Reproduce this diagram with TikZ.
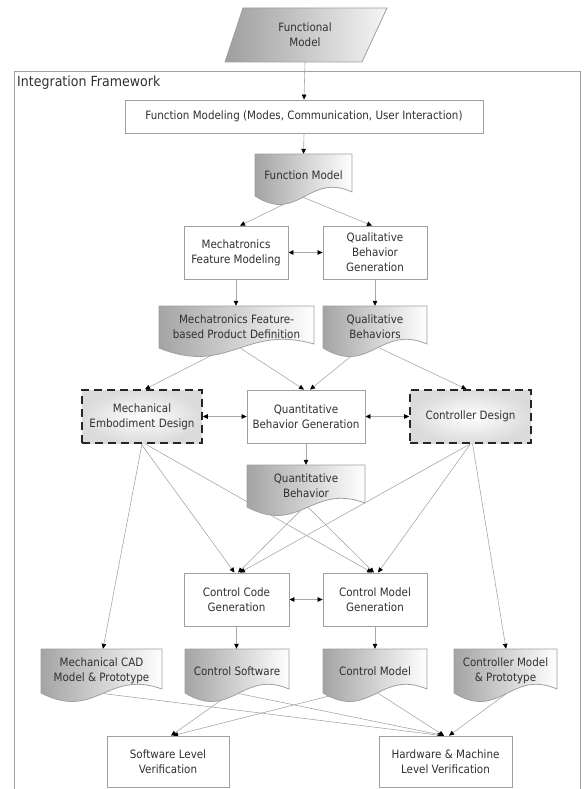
\documentclass[tikz,border=0pt]{standalone}
\usepackage{fontspec}
\setmainfont{DejaVu Sans}[FakeStretch=0.9]
\usetikzlibrary{arrows.meta,calc}
\pgfdeclarelayer{background}
\pgfsetlayers{background,main}

\definecolor{edge}{HTML}{A0A0A0}
\definecolor{wire}{HTML}{A8A8A8}
\definecolor{ink}{HTML}{303030}
\definecolor{docdark}{HTML}{A4A4A4}

\tikzset{
  txt/.style={font=\fontsize{11.5}{15}\selectfont, text=ink, align=center, inner sep=0pt},
  box/.style={txt, draw=edge, fill=white, line width=0.8pt},
  docbox/.style={txt, draw=none},
  tip/.tip={Triangle[length=5pt,width=4.5pt,color=black]},
  conn/.style={draw=wire, line width=0.6pt, -tip},
  biconn/.style={draw=wire, line width=0.6pt, tip-tip},
  frame/.style={draw=edge, line width=0.9pt},
  docshade/.style={left color=docdark, right color=white, draw=edge, line width=0.8pt},
  design/.style={txt, shade, inner color=white, outer color=black!14, draw=black!85,
                 line width=1.6pt, dash pattern=on 8pt off 5pt},
}

% rectangular node given by its corners: style, name, x1, y1, x2, y2, text
\newcommand\rectnode[7]{%
  \node[#1, minimum width={#5-#3}, minimum height={#6-#4}] (#2)
    at ({(#3+#5)/2},{(#4+#6)/2}) {#7};}

% document shape with a wavy lower edge: name, x1, y1, x2, y2 (lower corner), text
\newcommand\docnode[6]{%
  \shadedraw[docshade] (#2,#3) -- (#4,#3) -- (#4,{#5-4})
    .. controls ({#2+0.55*(#4-#2)},{#5-24}) and ({#2+0.45*(#4-#2)},{#5+28}) .. (#2,#5) -- cycle;
  \rectnode{docbox}{#1}{#2}{#3}{#4}{#5}{#6}}

\begin{document}
\begin{tikzpicture}[x=1pt,y=-1pt]
\useasboundingbox (0,0) rectangle (586,789);

% input: functional model
\shadedraw[left color=black!38, right color=black!4, draw=edge, line width=0.8pt]
  (243,8) -- (387,8) -- (362,62) -- (225,62) -- cycle;
\rectnode{docbox}{para}{235}{8}{375}{62}{Functional\\Model}

\node[txt, font=\fontsize{14}{16}\selectfont, anchor=west] (title) at (17,83) {Integration Framework};

% function level
\rectnode{box}{fmod}{125}{100}{483}{133}{Function Modeling (Modes, Communication, User Interaction)}
\docnode{fm}{255}{154}{352}{196}{Function Model}

% feature and qualitative level
\rectnode{box}{mfm}{184}{226}{288}{279}{Mechatronics\\Feature Modeling}
\rectnode{box}{qbg}{323}{226}{427}{279}{Qualitative\\Behavior\\Generation}
\docnode{mfd}{159}{306}{314}{348}{Mechatronics Feature-\\based Product Definition}
\docnode{qbs}{323}{306}{427}{348}{Qualitative\\Behaviors}

% design level
\rectnode{design}{med}{82}{390}{202}{443}{Mechanical\\Embodiment Design}
\rectnode{box}{qtg}{247}{390}{365}{443}{Quantitative\\Behavior Generation}
\rectnode{design}{cd}{410}{390}{531}{443}{Controller Design}
\docnode{qb}{247}{465}{365}{507}{Quantitative\\Behavior}

% control generation
\rectnode{box}{ccg}{184}{573}{289}{626}{Control Code\\Generation}
\rectnode{box}{cmg}{323}{573}{427}{626}{Control Model\\Generation}

% artefacts
\docnode{mcad}{41}{649}{162}{693}{Mechanical CAD\\Model \& Prototype}
\docnode{cs}{185}{649}{289}{693}{Control Software}
\docnode{cm}{323}{649}{427}{693}{Control Model}
\docnode{cmm}{454}{649}{557}{693}{Controller Model\\\& Prototype}

% verification
\rectnode{box}{slv}{107}{736}{229}{787}{Software Level\\Verification}
\rectnode{box}{hmlv}{379}{736}{512}{787}{Hardware \& Machine\\Level Verification}

\begin{pgfonlayer}{background}
  \draw[frame] (14,795) -- (14,71) -- (580,71) -- (580,795);

  \draw[conn] (para.south) -- (fmod.north);
  \draw[conn] (fmod.south) -- (fm.north);
  \draw[conn] ([xshift=-3pt]fm.south) -- ([xshift=4pt]mfm.north);
  \draw[conn] ([xshift=-3pt]fm.south) -- ([xshift=-3pt]qbg.north);
  \draw[biconn] (mfm) -- (qbg);
  \draw[conn] (mfm.south) -- (mfd.north -| mfm.south);
  \draw[conn] (qbg.south) -- (qbs.north);

  \draw[conn] ([xshift=-11pt]mfd.south) -- ([xshift=3pt]med.north);
  \draw[conn] ([xshift=4pt]mfd.south) -- ([xshift=-2pt]qtg.north);
  \draw[conn] ([xshift=-14pt]qbs.south) -- ([xshift=4pt]qtg.north);
  \draw[conn] ([xshift=5pt]qbs.south) -- ([xshift=-4pt]cd.north);
  \draw[biconn] (med) -- (qtg);
  \draw[biconn] (qtg) -- (cd);
  \draw[conn] (qtg.south) -- (qb.north);

  \draw[conn] ([xshift=-1pt]med.south) -- ([xshift=-2pt]ccg.north);
  \draw[conn] ([xshift=3pt]med.south) -- ([xshift=-3pt]cmg.north);
  \draw[conn] (med.south) -- ([xshift=1.5pt]mcad.north);
  \draw[conn] (cd.south) -- ([xshift=3.5pt]ccg.north);
  \draw[conn] (cd.south) -- ([xshift=3pt]cmg.north);
  \draw[conn] ([xshift=2pt]cd.south) -- ([xshift=0.5pt]cmm.north);
  \draw[conn] ([xshift=-2pt]qb.south) -- ([xshift=1.5pt]ccg.north);
  \draw[conn] ([xshift=2pt]qb.south) -- ([xshift=-1pt]cmg.north);

  \draw[biconn] (ccg) -- (cmg);
  \draw[conn] (ccg.south) -- (cs.north -| ccg.south);
  \draw[conn] (cmg.south) -- (cm.north);

  \draw[conn] ([xshift=-1pt]mcad.south) -- ([xshift=-3pt]hmlv.north);
  \draw[conn] ([xshift=-6pt]cs.south) -- ([xshift=3pt]slv.north);
  \draw[conn] (cs.south) -- ([xshift=-1.5pt]hmlv.north);
  \draw[conn] ([xshift=-35pt]cm.south) -- ([xshift=5pt]slv.north);
  \draw[conn] ([xshift=3pt]cm.south) -- ([xshift=-1.5pt]hmlv.north);
  \draw[conn] ([xshift=1.5pt]cmm.south) -- ([xshift=3.5pt]hmlv.north);
\end{pgfonlayer}
\end{tikzpicture}
\end{document}
